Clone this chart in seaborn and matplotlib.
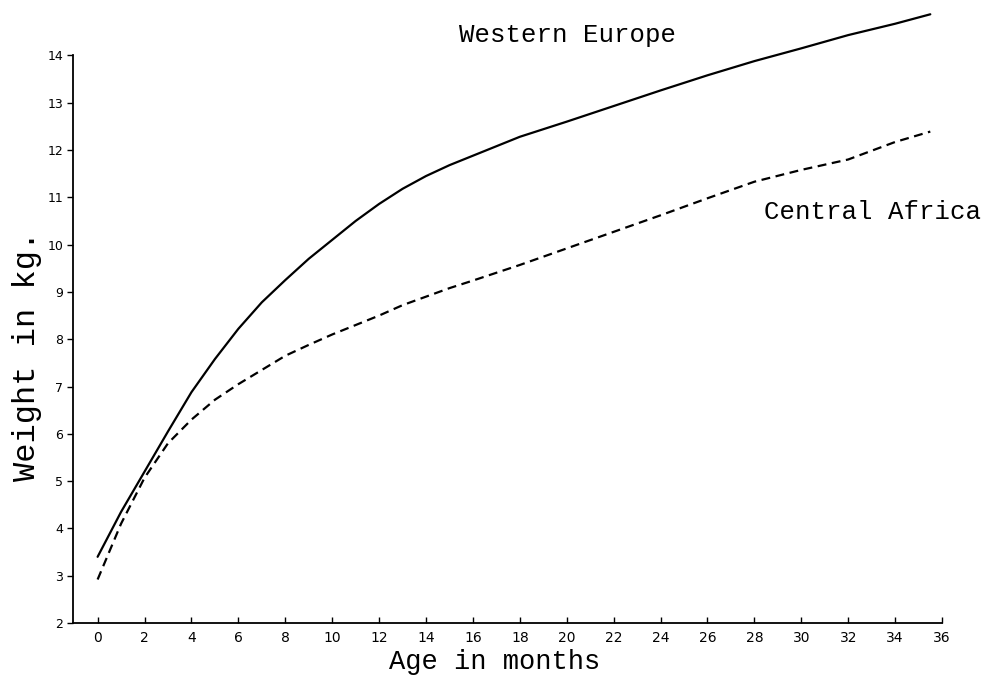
import pandas as pd
import matplotlib
matplotlib.use("Agg")
import matplotlib.pyplot as plt
import seaborn as sns

# values (age in months, weight in kg)
europe_age = [0, 1, 2, 3, 4, 5, 6, 7, 8, 9, 10, 11, 12, 13, 14, 15, 16, 18, 20,
              22, 24, 26, 28, 30, 32, 34, 35.5]
europe_weight = [3.4, 4.35, 5.2, 6.05, 6.88, 7.58, 8.22, 8.78, 9.25, 9.7, 10.1, 10.5,
                 10.86, 11.18, 11.45, 11.68, 11.88, 12.28, 12.6, 12.93, 13.26,
                 13.58, 13.88, 14.15, 14.43, 14.67, 14.87]

africa_age = [0, 1, 2, 3, 4, 5, 6, 7, 8, 9, 10, 11, 12, 13, 14, 15, 16, 18, 20,
              22, 24, 26, 28, 30, 32, 34, 35.5]
africa_weight = [2.92, 4.1, 5.07, 5.8, 6.3, 6.72, 7.05, 7.35, 7.65, 7.88, 8.1, 8.3,
                 8.5, 8.72, 8.9, 9.08, 9.24, 9.57, 9.92, 10.27, 10.62, 10.98,
                 11.33, 11.58, 11.8, 12.17, 12.39]

x_ticks = list(range(0, 37, 2))
y_ticks = list(range(2, 15))

df = pd.concat([
    pd.DataFrame({'Age': europe_age, 'Weight': europe_weight, 'Region': 'Western Europe'}),
    pd.DataFrame({'Age': africa_age, 'Weight': africa_weight, 'Region': 'Central Africa'}),
])

sns.set_style("ticks", {'text.color': 'black', 'axes.labelcolor': 'black',
                        'xtick.color': 'black', 'ytick.color': 'black',
                        'axes.edgecolor': 'black'})
plt.rcParams['font.family'] = ['DejaVu Sans']

fig = plt.figure(figsize=(9.89, 6.78), dpi=100)
ax = fig.add_axes([0.0738, 0.0811, 0.9525 - 0.0738, 0.988 - 0.0811])

sns.lineplot(data=df, x='Age', y='Weight', style='Region', color='black',
             dashes={'Western Europe': '', 'Central Africa': (4, 2.5)},
             linewidth=1.6, legend=False, ax=ax)

ax.set_xlim(-1.05, 36)
ax.set_ylim(2, 15.0)
ax.set_xticks(x_ticks)
ax.set_yticks(y_ticks)
ax.tick_params(axis='x', direction='in', length=4, width=1, labelsize=10, pad=6)
ax.tick_params(axis='y', direction='out', length=4, width=1, labelsize=9, pad=3)

for s in ['top', 'right']:
    ax.spines[s].set_visible(False)
ax.spines['left'].set_bounds(2, 14)
ax.spines['left'].set_linewidth(1.3)
ax.spines['bottom'].set_linewidth(1.3)

mono = 'Liberation Mono'
ax.set_xlabel('Age in months', family=mono, fontsize=19.5)
ax.set_ylabel('Weight in kg.', family=mono, fontsize=23)
ax.xaxis.set_label_coords(0.485, -0.043)
ax.yaxis.set_label_coords(-0.036, 0.434)

ax.text(15.4, 14.43, 'Western Europe', family=mono, fontsize=18.5,
        ha='left', va='center')
ax.text(28.4, 10.69, 'Central Africa', family=mono, fontsize=18.5,
        ha='left', va='center')

fig.savefig('out.png', dpi=100)
